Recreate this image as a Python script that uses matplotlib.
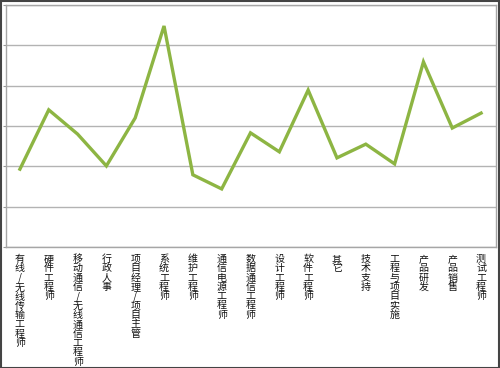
import matplotlib
matplotlib.use("Agg")
import matplotlib.pyplot as plt
import matplotlib.transforms as mtransforms
from matplotlib.patches import Rectangle

plt.rcParams['font.family'] = ['Noto Sans CJK SC', 'DejaVu Sans']

# categories (job types) and values
categories = ["有线/无线传输工程师", "硬件工程师", "移动通信/无线通信工程师", "行政人事",
              "项目经理/项目主管", "系统工程师", "维护工程师", "通信电源工程师",
              "数据通信工程师", "设计工程师", "软件工程师", "其它", "技术支持",
              "工程与项目实施", "产品研发", "产品销售", "测试工程师"]
values = [1.93, 3.40, 2.80, 2.01, 3.20, 5.48, 1.79, 1.44, 2.83,
          2.36, 3.89, 2.21, 2.55, 2.06, 4.59, 2.95, 3.32]

W, H = 500, 368
fig = plt.figure(figsize=(W / 100, H / 100), dpi=100)

# plot area in pixels: left 5.5, right 495.5, top 5, bottom 247
ax = fig.add_axes([5.5 / W, (H - 247) / H, 490 / W, 242 / H])
ax.plot(range(len(values)), values, color='#8db543', linewidth=2.4,
        solid_joinstyle='miter')
ax.set_xlim(-0.5, len(values) - 0.5)
ax.set_ylim(0, 6)
ax.set_yticks(range(7))
ax.set_xticks([])
ax.tick_params(axis='y', length=2, labelleft=False, color='#999999')
ax.grid(axis='y', color='#b3b3b3', linewidth=1)
ax.set_axisbelow(True)
for s in ax.spines.values():
    s.set_color('#a6a6a6')
    s.set_linewidth(1)

# vertical (stacked) category labels
trans = mtransforms.blended_transform_factory(ax.transData, fig.transFigure)
for i, lab in enumerate(categories):
    ax.text(i, 1 - 254 / H, "\n".join(lab), transform=trans, ha='center',
            va='top', fontsize=7.2, linespacing=0.91, color='#111111')

# outer border of the picture
fig.patches.append(Rectangle((0.001, 0.001), 0.997, 0.996, transform=fig.transFigure,
                             fill=False, edgecolor='#444444', linewidth=1.5))

fig.savefig("out.png", dpi=100)
